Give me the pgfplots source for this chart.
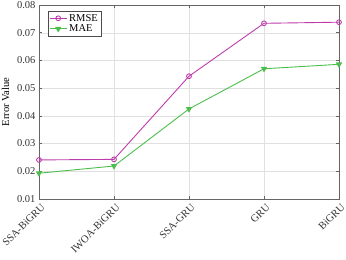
\documentclass[border=0pt]{standalone}
\usepackage{pgfplots}
\pgfplotsset{compat=1.18}
\usepackage{fontspec}
\setmainfont{Liberation Serif}
\definecolor{cR}{RGB}{190,60,170}
\definecolor{cM}{RGB}{77,190,77}
\begin{document}
\begin{tikzpicture}
\begin{axis}[
  scale only axis, width=300pt, height=194pt,
  xmin=0, xmax=4, ymin=0.01, ymax=0.08,
  xtick={0,1,2,3,4},
  xticklabels={SSA-BiGRU,IWOA-BiGRU,SSA-GRU,GRU,BiGRU},
  x tick label style={xshift=1.5pt, yshift=-4pt, rotate=45, anchor=north east, inner sep=0pt},
  ytick={0.01,0.02,0.03,0.04,0.05,0.06,0.07,0.08},
  yticklabel style={/pgf/number format/.cd, fixed, precision=2, fixed zerofill},
  /pgf/number format/assume math mode=true,
  scaled y ticks=false,
  tick align=inside, tick style={black!60, line width=0.5pt}, major tick length=3pt,
  axis line style={black!60, line width=0.6pt},
  grid=major, grid style={black!12, line width=0.4pt},
  ylabel={Error Value},
  label style={font=\fontsize{10.5}{12}\selectfont},
  ylabel style={yshift=1pt},
  tick label style={font=\fontsize{10.5}{12}\selectfont, text=black!80},
  legend style={at={(0.03,0.97)}, anchor=north west, draw=black!70, font=\fontsize{10.5}{12}\selectfont, inner sep=1pt, row sep=-2pt, line width=0.5pt},
  legend cell align=left,
]
\addplot[color=cR, line width=0.9pt, mark=o, mark size=2.4pt, mark options={line width=0.9pt}] coordinates {
(0,0.0241) (1,0.0243) (2,0.0543) (3,0.0734) (4,0.0738)};
\addlegendentry{RMSE}
\addplot[color=cM, line width=0.9pt, mark=triangle*, mark size=2.8pt, mark options={rotate=180}] coordinates {
(0,0.0193) (1,0.0219) (2,0.0425) (3,0.0570) (4,0.0586)};
\addlegendentry{MAE}
\end{axis}
\pgfresetboundingbox
\path (-39pt,-61pt) rectangle (307pt,199pt);
\end{tikzpicture}
\end{document}
